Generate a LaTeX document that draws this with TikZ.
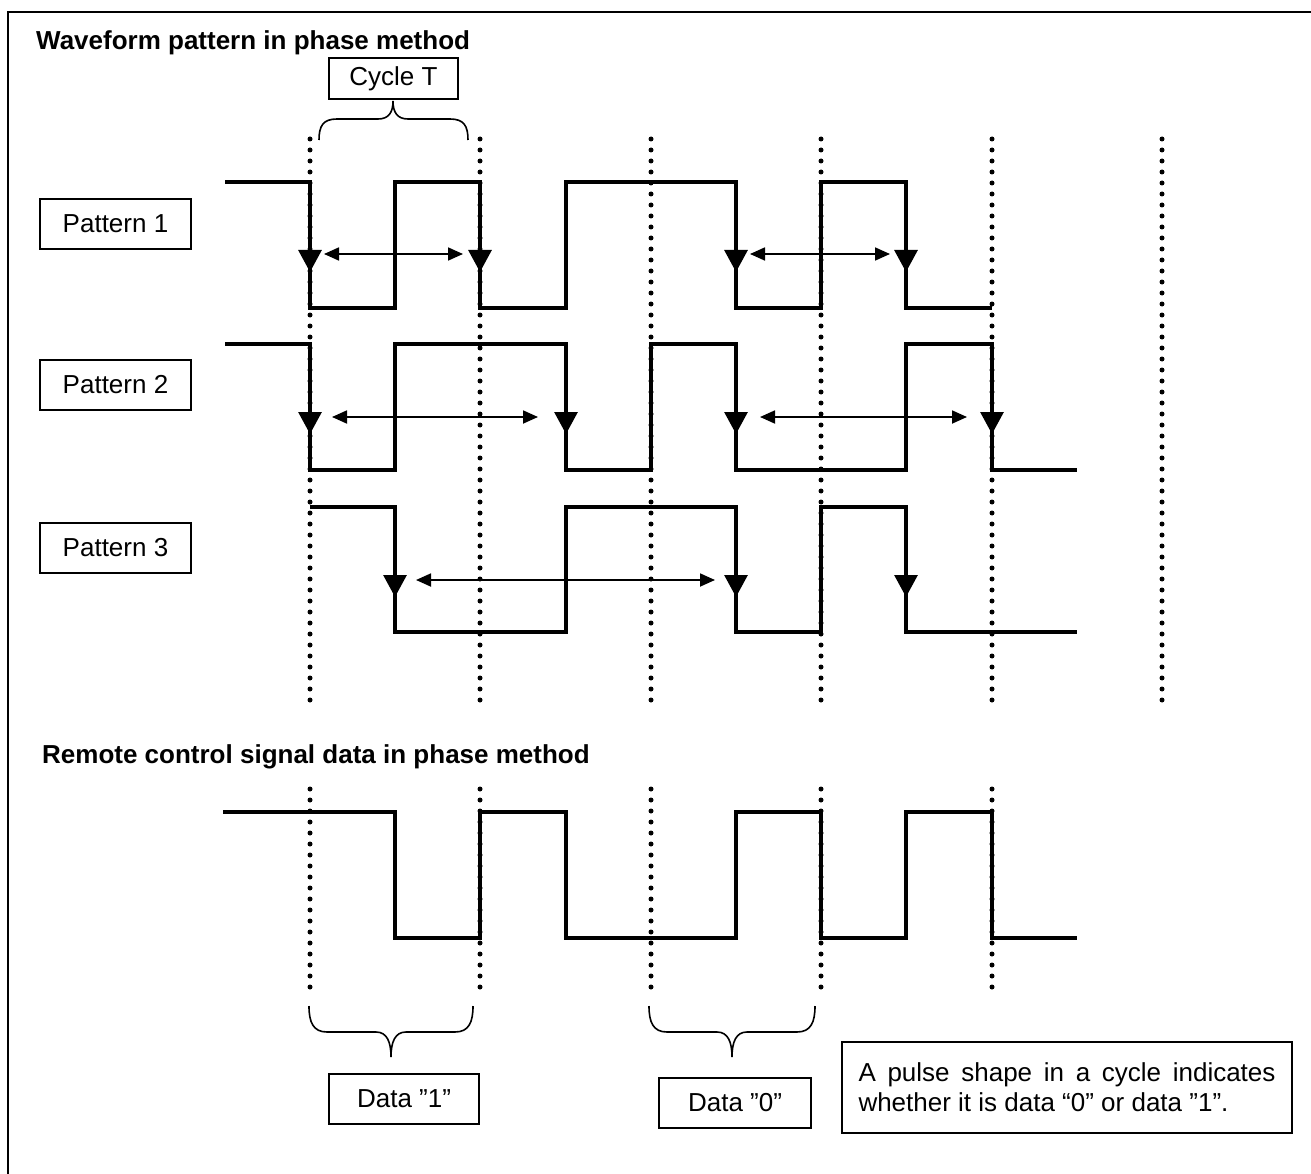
\documentclass[tikz,border=0pt]{standalone}
\usepackage{fontspec}
\setmainfont{Liberation Sans}
\usetikzlibrary{arrows.meta}
\newcommand\labfont{\fontsize{26}{30}\selectfont}
\newcommand\ttlfont{\fontsize{26}{30}\selectfont\bfseries}
\begin{document}
\begin{tikzpicture}[x=1pt,y=-1pt,
  wave/.style={line width=4.5pt, line join=miter},
  dots/.style={line width=5pt, line cap=round, dash pattern=on 0pt off 11pt},
  fall/.style={line width=3pt, -{Triangle[length=22pt,width=23pt]}},
  dbl/.style={line width=1.8pt, {Triangle[length=15pt,width=13pt]}-{Triangle[length=15pt,width=13pt]}},
  brace/.style={line width=1.6pt},
  box/.style={draw, line width=1.5pt, inner sep=0pt, font=\labfont, align=center},
  ttl/.style={inner sep=0pt, font=\ttlfont, anchor=base west}]
\useasboundingbox (0,0) rectangle (1311,1174);
\fill[white] (0,0) rectangle (1311,1174);
\draw[line width=2.5pt] (8,1174) -- (8,12) -- (1311,12);

% titles
\node[ttl] (t1) at (36,50) {Waveform pattern in phase method};
\node[ttl] (t2) at (42,763) {Remote control signal data in phase method};

% dotted guides
\foreach \x in {310,480,651,821,992,1162} \draw[dots] (\x,139) -- (\x,703);
\foreach \x in {310,480,651,821,992} \draw[dots] (\x,789) -- (\x,992);

% Pattern 1
\draw[wave] (225,182) -- (310,182) -- (310,308) -- (395,308) -- (395,182) -- (480,182) -- (480,308)
  -- (566,308) -- (566,182) -- (736,182) -- (736,308) -- (821,308) -- (821,182) -- (906,182) -- (906,308) -- (992,308);
\foreach \x in {310,480,736,906} \draw[fall] (\x,200) -- (\x,272);
\coordinate (a1l) at (324,254); \coordinate (a1r) at (463,254);
\coordinate (a2l) at (750,254); \coordinate (a2r) at (890,254);
\draw[dbl] (a1l) -- (a1r);
\draw[dbl] (a2l) -- (a2r);

% Pattern 2
\draw[wave] (225,344) -- (310,344) -- (310,470) -- (395,470) -- (395,344) -- (566,344) -- (566,470)
  -- (651,470) -- (651,344) -- (736,344) -- (736,470) -- (906,470) -- (906,344) -- (992,344) -- (992,470) -- (1077,470);
\foreach \x in {310,566,736,992} \draw[fall] (\x,362) -- (\x,434);
\coordinate (b1l) at (332,417); \coordinate (b1r) at (538,417);
\coordinate (b2l) at (760,417); \coordinate (b2r) at (967,417);
\draw[dbl] (b1l) -- (b1r);
\draw[dbl] (b2l) -- (b2r);

% Pattern 3
\draw[wave] (310,507) -- (395,507) -- (395,632) -- (566,632) -- (566,507) -- (736,507) -- (736,632)
  -- (821,632) -- (821,507) -- (906,507) -- (906,632) -- (1077,632);
\foreach \x in {395,736,906} \draw[fall] (\x,525) -- (\x,597);
\coordinate (c1l) at (416,580); \coordinate (c1r) at (715,580);
\draw[dbl] (c1l) -- (c1r);

% Remote control signal
\draw[wave] (223,812) -- (395,812) -- (395,938) -- (480,938) -- (480,812) -- (566,812) -- (566,938)
  -- (736,938) -- (736,812) -- (821,812) -- (821,938) -- (906,938) -- (906,812) -- (992,812) -- (992,938) -- (1077,938);

% braces
\draw[brace] (319,140) .. controls (319,126) and (323,119) .. (337,119) -- (378,119)
  .. controls (389,119) and (393,112) .. (393,101) .. controls (393,112) and (397,119) .. (408,119)
  -- (450,119) .. controls (464,119) and (468,126) .. (468,140);
\draw[brace] (309,1006) .. controls (309,1022) and (313,1032) .. (327,1032) -- (376,1032)
  .. controls (387,1032) and (391,1042) .. (391,1057) .. controls (391,1042) and (395,1032) .. (406,1032)
  -- (455,1032) .. controls (469,1032) and (473,1022) .. (473,1006);
\draw[brace] (649,1006) .. controls (649,1022) and (653,1032) .. (667,1032) -- (717,1032)
  .. controls (728,1032) and (732,1042) .. (732,1057) .. controls (732,1042) and (736,1032) .. (747,1032)
  -- (797,1032) .. controls (811,1032) and (815,1022) .. (815,1006);

% boxes
\node[box, minimum width=129pt, minimum height=41pt] (cyc) at (393.5,78.5) {Cycle T};
\node[box, minimum width=151pt, minimum height=50pt] (p1) at (115.5,224) {Pattern 1};
\node[box, minimum width=151pt, minimum height=50pt] (p2) at (115.5,385) {Pattern 2};
\node[box, minimum width=151pt, minimum height=50pt] (p3) at (115.5,548) {Pattern 3};
\node[box, minimum width=150pt, minimum height=50pt] (d1) at (404,1099) {Data ”1”};
\node[box, minimum width=152pt, minimum height=50pt] (d0) at (735,1103) {Data ”0”};
\node[box, text width=417pt, inner xsep=16.5pt, minimum height=91pt, align=justify] (desc) at (1067,1087.5)
  {A pulse shape in a cycle indicates whether it is data “0” or data ”1”.};
\end{tikzpicture}
\end{document}
